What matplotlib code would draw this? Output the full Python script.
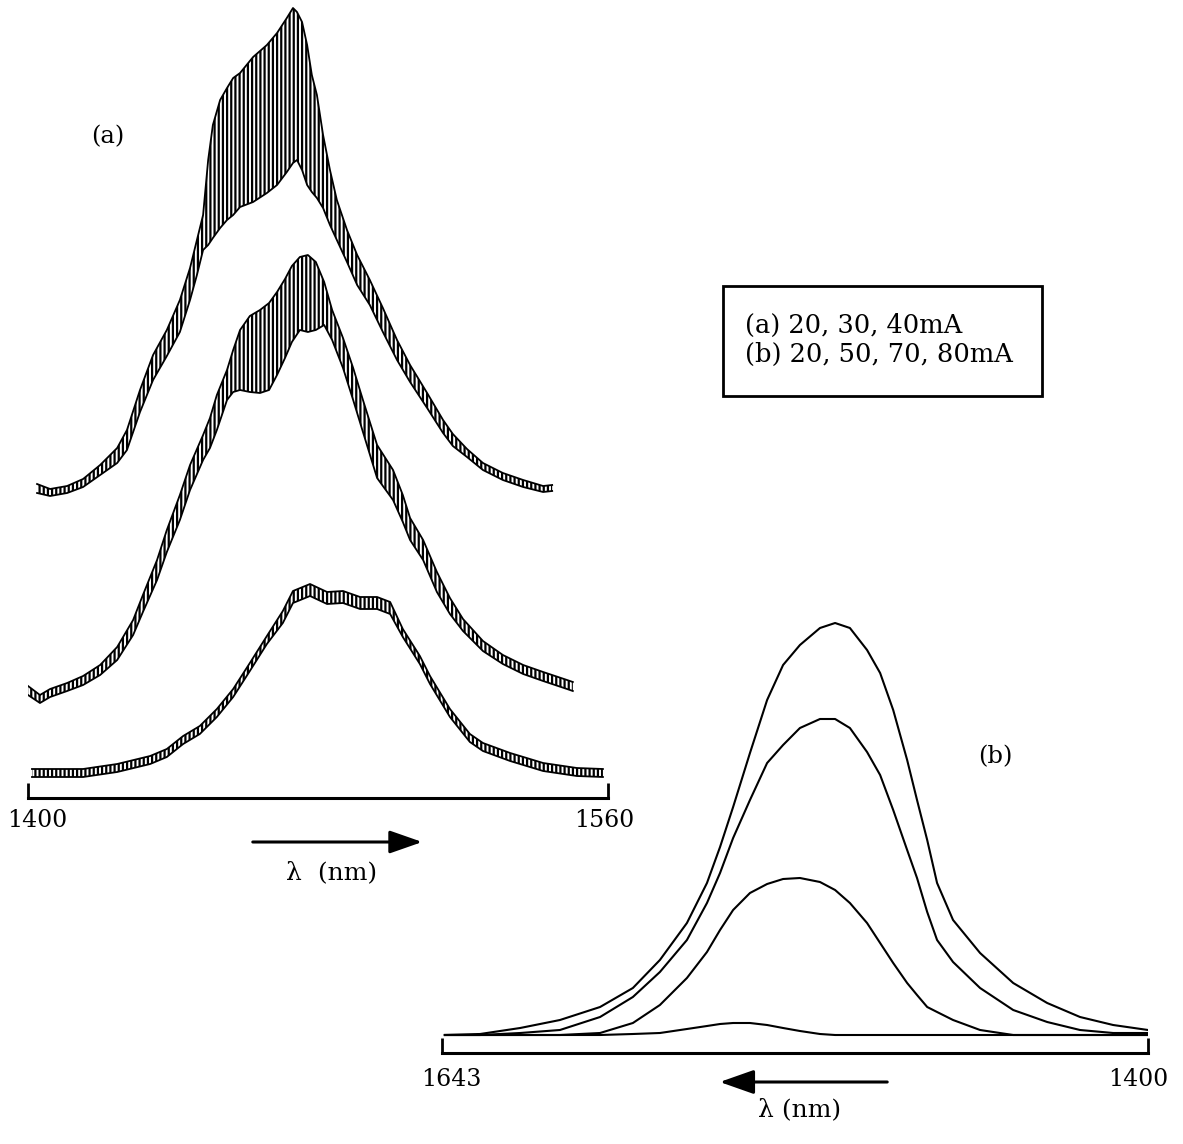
import matplotlib
matplotlib.use("Agg")
import matplotlib.pyplot as plt
from matplotlib.patches import Rectangle, FancyArrowPatch
from matplotlib.transforms import ScaledTranslation

plt.rcParams['font.family'] = ['DejaVu Serif']
plt.rcParams['hatch.linewidth'] = 1.6
plt.rcParams['hatch.color'] = 'black'

# ---------------- panel (a): 1400-1560 nm, traces stacked (a.u.) ----------------
# 40 mA (top trace): upper / lower envelope of the fringe pattern
wl_a40 = [1402.5, 1406.1, 1410.8, 1415.2, 1419.9, 1424.6, 1427.3, 1430.9, 1434.5, 1438.3,
          1441.9, 1444.7, 1446.6, 1448.3, 1449.7, 1451.0, 1453.0, 1454.9, 1456.6, 1458.5,
          1462.1, 1465.9, 1468.7, 1471.4, 1473.1, 1474.2, 1475.6, 1477.0, 1478.3, 1479.7,
          1481.4, 1483.3, 1485.2, 1488.0, 1490.8, 1494.3, 1497.9, 1501.8, 1505.4, 1510.1,
          1514.5, 1517.2, 1521.1, 1525.5, 1531.0, 1536.6, 1542.1, 1544.6]
hi_a40 = [314, 309, 312, 319, 333, 350, 368, 408, 443, 468,
          498, 530, 558, 583, 638, 673, 698, 710, 720, 725,
          741, 753, 765, 780, 790, 786, 776, 753, 723, 703,
          663, 628, 598, 568, 543, 518, 490, 458, 433, 405,
          378, 364, 349, 335, 325, 318, 312, 313]
lo_a40 = [305, 302, 305, 311, 323, 335, 348, 386, 418, 442,
          466, 498, 523, 548, 553, 560, 570, 578, 583, 591,
          596, 605, 613, 626, 635, 638, 628, 613, 606, 600,
          590, 573, 558, 536, 513, 493, 466, 438, 416, 390,
          365, 352, 341, 328, 318, 311, 306, 307]

# 30 mA (middle trace)
wl_a30 = [1400.0, 1403.3, 1406.1, 1410.8, 1415.2, 1419.9, 1424.6, 1429.0, 1431.7, 1435.6,
          1438.3, 1441.9, 1444.7, 1448.3, 1450.2, 1452.1, 1454.9, 1456.6, 1458.5, 1461.2,
          1464.0, 1466.5, 1468.7, 1470.9, 1472.8, 1475.0, 1477.2, 1479.4, 1481.7, 1483.9,
          1486.9, 1489.7, 1492.4, 1496.3, 1500.7, 1503.4, 1505.4, 1509.0, 1512.8, 1516.4,
          1520.0, 1525.5, 1531.0, 1536.6, 1542.1, 1548.7, 1550.3]
hi_a30 = [112, 103, 109, 115, 122, 133, 151, 178, 203, 238,
          268, 303, 333, 363, 380, 403, 428, 448, 468, 482,
          488, 495, 506, 519, 532, 541, 543, 536, 516, 488,
          460, 430, 398, 353, 328, 303, 280, 258, 226, 200,
          179, 157, 143, 133, 126, 118, 116]
lo_a30 = [103, 95, 101, 107, 113, 123, 138, 163, 186, 218,
          246, 278, 308, 338, 350, 368, 398, 406, 408, 406,
          405, 408, 423, 440, 456, 468, 466, 468, 473, 458,
          430, 398, 366, 320, 298, 276, 258, 238, 206, 184,
          167, 147, 134, 124, 117, 109, 107]

# 20 mA (bottom trace)
wl_a20 = [1401.1, 1406.1, 1415.2, 1424.6, 1433.7, 1438.3, 1442.8, 1447.4, 1452.1, 1456.6,
          1461.2, 1465.9, 1470.3, 1473.1, 1477.8, 1482.5, 1486.9, 1491.6, 1496.3, 1499.9,
          1503.4, 1508.1, 1510.9, 1516.4, 1521.9, 1525.5, 1533.0, 1542.1, 1551.4, 1558.6]
hi_a20 = [29, 29, 29, 34, 42, 49, 62, 72, 89, 109,
          135, 162, 187, 207, 214, 206, 207, 201, 201, 196,
          169, 142, 122, 89, 64, 55, 45, 35, 30, 29]
lo_a20 = [21, 21, 21, 26, 34, 41, 54, 64, 81, 101,
          127, 154, 175, 195, 202, 194, 195, 189, 189, 184,
          161, 134, 114, 81, 56, 47, 37, 27, 22, 21]

ticks_a = [1400, 1560]

# ---------------- panel (b): 1643 -> 1400 nm ----------------
wl_b = [1642.0, 1629.9, 1616.1, 1602.4, 1588.6, 1577.3, 1568.0, 1558.7, 1551.8, 1547.3,
        1542.8, 1537.0, 1531.1, 1525.6, 1519.8, 1512.9, 1507.7, 1502.6, 1496.7, 1492.2,
        1487.7, 1482.9, 1479.5, 1476.0, 1472.6, 1467.1, 1457.8, 1446.4, 1434.7, 1423.4,
        1412.0, 1400.0]
I_b80 = [18, 19, 25, 33, 46, 65, 93, 130, 170, 206,
         246, 300, 353, 388, 408, 425, 430, 425, 403, 380,
         343, 293, 253, 213, 170, 133, 100, 70, 50, 36,
         28, 23]
I_b70 = [18, 18, 20, 23, 36, 56, 81, 113, 150, 180,
         215, 253, 290, 308, 325, 334, 334, 325, 301, 278,
         243, 203, 175, 141, 113, 91, 65, 43, 31, 23,
         20, 20]
I_b50 = [18, 18, 18, 18, 20, 30, 48, 75, 101, 123,
         143, 160, 169, 174, 175, 171, 163, 150, 130, 110,
         90, 70, 58, 46, 41, 33, 23, 18, 18, 18,
         18, 18]
I_b20 = [18, 18, 18, 18, 18, 19, 20, 24, 27, 29,
         30, 30, 28, 25, 22, 19, 18, 18, 18, 18,
         18, 18, 18, 18, 18, 18, 18, 18, 18, 18,
         18, 18]

ticks_b = [1643, 1400]

legend_lines = ["(a) 20, 30, 40mA", "(b) 20, 50, 70, 80mA"]

# ---------------- figure ----------------
W, H = 1183, 1144
fig = plt.figure(figsize=(W / 100, H / 100), dpi=100)
fig.patch.set_facecolor('white')


def style_axis(ax, ticks, offsets, pad):
    for s in ('top', 'left', 'right'):
        ax.spines[s].set_visible(False)
    ax.spines['bottom'].set_linewidth(2.2)
    ax.set_yticks([])
    ax.set_xticks(ticks)
    ax.set_xticklabels([str(t) for t in ticks])
    ax.tick_params(axis='x', direction='in', length=11, width=2.0, pad=pad,
                   labelsize=17)
    for lab, dx in zip(ax.get_xticklabels(), offsets):
        lab.set_transform(lab.get_transform() +
                          ScaledTranslation(dx / 72, 0, fig.dpi_scale_trans))
    ax.set_facecolor('none')


# panel (a)
axA = fig.add_axes([28 / W, 1 - 798 / H, 580 / W, 798 / H])
axA.set_xlim(1400, 1560)
axA.set_ylim(0, 798)
for wl, lo, hi in [(wl_a40, lo_a40, hi_a40), (wl_a30, lo_a30, hi_a30),
                   (wl_a20, lo_a20, hi_a20)]:
    axA.fill_between(wl, lo, hi, facecolor='none', edgecolor='black',
                     hatch='||||', linewidth=0)
    axA.plot(wl, hi, color='black', lw=1.3)
    axA.plot(wl, lo, color='black', lw=1.3)
style_axis(axA, ticks_a, [7, -3], pad=8)

# panel (b)
axB = fig.add_axes([442 / W, 1 - 1053 / H, 706 / W, 453 / H])
axB.set_xlim(1643, 1400)
axB.set_ylim(0, 453)
for I in (I_b80, I_b70, I_b50, I_b20):
    axB.plot(wl_b, I, color='black', lw=1.5)
style_axis(axB, ticks_b, [7, -7], pad=11)

# arrows and axis captions
arrA = FancyArrowPatch((250 / W, 1 - 842 / H), (425 / W, 1 - 842 / H),
                       transform=fig.transFigure,
                       arrowstyle='-|>,head_length=1.0,head_width=0.35',
                       mutation_scale=20, color='black', lw=2.2)
fig.add_artist(arrA)
arrB = FancyArrowPatch((890 / W, 1 - 1082 / H), (717 / W, 1 - 1082 / H),
                       transform=fig.transFigure,
                       arrowstyle='-|>,head_length=1.05,head_width=0.37',
                       mutation_scale=20, color='black', lw=2.2)
fig.add_artist(arrB)
fig.text(332 / W, 1 - 879 / H, "λ  (nm)", ha='center', va='baseline', fontsize=18)
fig.text(800 / W, 1 - 1116 / H, "λ (nm)", ha='center', va='baseline', fontsize=18)

# panel labels
fig.text(108 / W, 1 - 137 / H, "(a)", ha='center', va='center', fontsize=17.5)
fig.text(995 / W, 1 - 757 / H, "(b)", ha='center', va='center', fontsize=17.5)

# legend box
fig.add_artist(Rectangle((723 / W, 1 - 396 / H), (1042 - 723) / W, (396 - 286) / H,
                         transform=fig.transFigure, facecolor='white',
                         edgecolor='black', lw=2.0))
fig.text(745 / W, 1 - 333 / H, legend_lines[0], ha='left', va='baseline', fontsize=18.5)
fig.text(745 / W, 1 - 362 / H, legend_lines[1], ha='left', va='baseline', fontsize=18.5)

fig.savefig("out.png", dpi=100, facecolor='white')
